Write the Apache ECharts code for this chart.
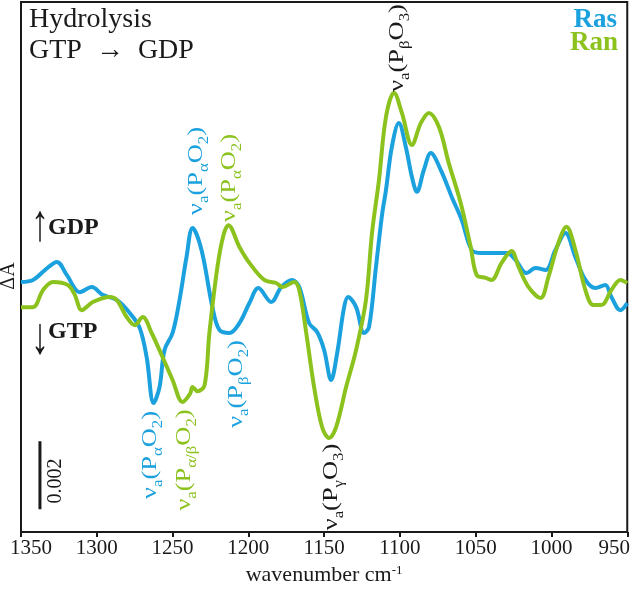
<!DOCTYPE html>
<html><head><meta charset="utf-8">
<script src="https://cdn.jsdelivr.net/npm/echarts@6/dist/echarts.min.js"></script>
<style>html,body{margin:0;padding:0;background:#fff}#c{width:633px;height:595px}</style>
</head><body><div id="c"></div>
<script>
// wavenumber (cm-1) and ΔA (units of 1e-3)
const rasX = [1350,1342.1,1334.2,1326.3,1319.7,1311.2,1303.3,1296.1,1286.8,1278.3,1271.7,1267.1,1262.5,1258.6,1255.3,1250.0,1245.4,1240.8,1236.8,1230.9,1223.7,1219.1,1212.5,1205.9,1199.3,1193.4,1184.9,1178.3,1171.1,1166.4,1159.9,1154.6,1150.0,1145.4,1141.4,1136.8,1134.2,1128.9,1123.7,1120.4,1115.8,1111.8,1109.2,1105.3,1100.7,1096.1,1092.1,1088.8,1084.2,1079.6,1073.0,1065.8,1059.2,1052.6,1046.1,1036.8,1029.6,1023.7,1016.4,1010.5,1003.9,997.4,990.8,984.2,977.6,971.0,964.5,960.5,954.6,950];
const rasY = [0.09,0.15,0.44,0.68,0.29,-0.21,-0.06,-0.29,-0.44,-0.82,-1.26,-2.12,-3.47,-3.00,-1.91,-1.41,-0.44,0.82,1.68,1.03,-0.65,-1.32,-1.41,-1.12,-0.53,-0.09,-0.50,-0.06,0.15,-0.06,-1.12,-1.38,-1.91,-2.79,-2.00,-0.65,-0.35,-0.65,-1.41,-1.24,0.53,2.06,2.79,4.06,4.76,4.06,3.18,2.74,3.38,3.88,3.38,2.59,1.91,1.03,0.94,0.94,0.94,0.74,0.35,0.50,0.44,1.03,1.53,0.82,0.15,-0.09,0.00,-0.35,-0.74,-0.53];
const ranX = [1350,1342.1,1335.5,1328.9,1319.1,1314.5,1309.9,1302.6,1291.4,1286.8,1280.3,1275.0,1269.7,1263.8,1256.6,1250.0,1243.4,1238.5,1236.8,1233.6,1228.9,1225.7,1220.4,1216.4,1213.2,1205.9,1199.3,1189.5,1181.6,1177.6,1169.7,1166.4,1161.8,1156.6,1151.3,1146.7,1142.1,1135.5,1128.9,1122.4,1118.4,1113.8,1109.2,1103.9,1098.7,1092.1,1086.2,1080.9,1074.3,1067.8,1059.9,1053.3,1049.3,1043.4,1039.5,1032.9,1026.3,1021.7,1015.1,1007.2,1002.0,995.4,990.1,984.2,977.6,972.4,967.1,960.5,954.6,950];
const ranY = [-0.65,-0.65,-0.15,0.09,0,-0.29,-0.74,-0.50,-0.35,-0.44,-0.94,-1.18,-0.94,-1.41,-2.12,-2.79,-3.44,-3.20,-3.00,-3.12,-2.95,-1.41,0.53,1.47,1.76,1.12,0.65,0.15,0.06,-0.06,0.09,-0.15,-1.41,-3.00,-4.18,-4.50,-4.18,-3.00,-1.91,-0.44,1.53,3.09,4.94,5.65,5.06,4.12,4.76,5.06,4.65,3.59,2.41,1.12,0.29,0.21,0.15,0.65,1.00,0.53,-0.06,-0.38,0.24,1.24,1.71,1.03,-0.15,-0.59,-0.59,-0.15,0.15,0.06];
const xTicks = [950,1000,1050,1100,1150,1200,1250,1300,1350];
const scaleBar = 2; // 0.002 ΔA
const seriesNames = ['Ras','Ran'];

const SERIF = '"Liberation Serif","Times New Roman",serif';
const BLUE = '#1ba1dd', GREEN = '#8cc21e', INK = '#1a1a1a';

const chart = echarts.init(document.getElementById('c'), null, {renderer:'canvas'});

function richAnno(color){
  return {
    n:{fontSize:22, fontFamily:SERIF, fill:color, lineHeight:30},
    s:{fontSize:14, fontFamily:SERIF, fill:color, lineHeight:14, verticalAlign:'bottom'}
  };
}
function anno(text, color, x, y){
  return {type:'text', x:x, y:y, rotation:Math.PI/2, scaleX:1.2, z:10,
    style:{text:text, align:'center', verticalAlign:'middle', rich:richAnno(color), fill:color, font:'22px '+SERIF}};
}
function plain(text, x, y, opts){
  return Object.assign({type:'text', x:x, y:y, z:10,
    style:Object.assign({text:text, fill:INK, font:'27px '+SERIF, align:'left', verticalAlign:'middle'}, opts||{})});
}

const option = {
  animation:false,
  grid:{left:21, right:4, top:2, bottom:63, show:true, borderColor:INK, borderWidth:2},
  xAxis:{type:'value', inverse:true, min:xTicks[0], max:xTicks[xTicks.length-1], interval:50,
    axisLine:{show:true, onZero:false, lineStyle:{color:INK, width:2}},
    axisTick:{show:true, length:5, lineStyle:{color:INK, width:2}},
    splitLine:{show:false},
    axisLabel:{fontFamily:SERIF, fontSize:21, color:INK, margin:6,
      formatter:function(v){ if(v===1350) return '{l|1350}'; if(v===950) return '{r|950}'; return String(v); },
      rich:{l:{fontFamily:SERIF, fontSize:21, color:INK, padding:[0,0,0,20]}, r:{fontFamily:SERIF, fontSize:21, color:INK, padding:[0,26,0,0]}}},
    name:'wavenumber cm{sup|-1}', nameLocation:'middle', nameGap:30,
    nameTextStyle:{fontFamily:SERIF, fontSize:22, color:INK, verticalAlign:'top',
      rich:{sup:{fontFamily:SERIF, fontSize:13, color:INK, verticalAlign:'top', lineHeight:22}}}
  },
  yAxis:{type:'value', min:-7.26, max:8.32, show:false},
  series:[
    {name:seriesNames[0], type:'line', data:rasX.map((x,i)=>[x,rasY[i]]), smooth:0.35, symbol:'none',
      lineStyle:{color:BLUE, width:4}, z:2},
    {name:seriesNames[1], type:'line', data:ranX.map((x,i)=>[x,ranY[i]]), smooth:0.35, symbol:'none',
      lineStyle:{color:GREEN, width:4}, z:3},
    {name:'scale', type:'line', data:[[1337.5,-6.59],[1337.5,-6.59+scaleBar]], symbol:'none',
      lineStyle:{color:INK, width:3}, z:4}
  ],
  graphic:[
    plain('Hydrolysis', 29, 20, {font:'28px '+SERIF}),
    plain('GTP  \u2192  GDP', 29, 51, {font:'28px '+SERIF}),
    plain(seriesNames[0], 617, 20, {align:'right', fill:BLUE, font:'bold 27px '+SERIF}),
    plain(seriesNames[1], 618, 43, {align:'right', fill:GREEN, font:'bold 27px '+SERIF}),
    Object.assign(plain('\u2191', 40, 227, {align:'center', font:'bold 36px '+SERIF}), {scaleY:1.45}),
    plain('GDP', 48, 228, {font:'bold 24px '+SERIF}),
    Object.assign(plain('\u2193', 40, 340, {align:'center', font:'bold 36px '+SERIF}), {scaleY:1.45}),
    plain('GTP', 48, 332, {font:'bold 24px '+SERIF}),
    Object.assign(plain('\u0394A', 9, 276, {align:'center', font:'20px '+SERIF}), {rotation:Math.PI/2}),
    Object.assign(plain('0.002', 56, 481, {align:'center', font:'20px '+SERIF}), {rotation:Math.PI/2}),
    anno('{n|\u03bd}{s|a}{n|(P}{s|\u03b1}{n|O}{s|2}{n|)}', BLUE, 196, 171),
    anno('{n|\u03bd}{s|a}{n|(P}{s|\u03b1}{n|O}{s|2}{n|)}', GREEN, 229, 178),
    anno('{n|\u03bd}{s|a}{n|(P}{s|\u03b1}{n|O}{s|2}{n|)}', BLUE, 150, 455),
    anno('{n|\u03bd}{s|a}{n|(P}{s|\u03b1/\u03b2}{n|O}{s|2}{n|)}', GREEN, 184, 460),
    anno('{n|\u03bd}{s|a}{n|(P}{s|\u03b2}{n|O}{s|2}{n|)}', BLUE, 236, 384),
    anno('{n|\u03bd}{s|a}{n|(P}{s|\u03b3}{n|O}{s|3}{n|)}', INK, 331, 487),
    anno('{n|\u03bd}{s|a}{n|(P}{s|\u03b2}{n|O}{s|3}{n|)}', INK, 397, 48)
  ]
};
chart.setOption(option);
</script></body></html>
